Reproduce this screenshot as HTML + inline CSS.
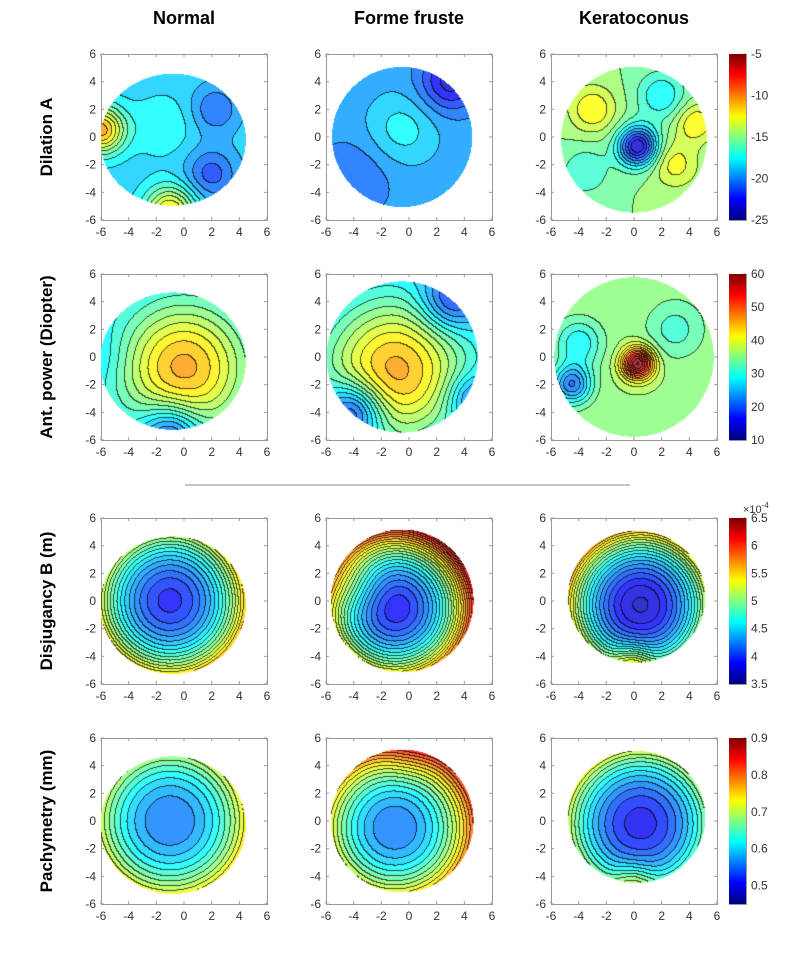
<!DOCTYPE html>
<html><head><meta charset="utf-8"><style>
body{margin:0;background:#fff;width:800px;height:956px;position:relative;overflow:hidden;font-family:"Liberation Sans",Arial,sans-serif}
svg{position:absolute;left:0;top:0}
canvas{position:absolute}
</style></head><body>
<svg id="fig" width="800" height="956"></svg>
<script>
// ---- data ----
const colTitles=["Normal","Forme fruste","Keratoconus"];
const rowTitles=["Dilation A","Ant. power (Diopter)","Disjugancy B (m)","Pachymetry (mm)"];
const rowMin=[-25,10,3.5,0.45];
const rowMax=[-5,60,6.5,0.9];
const rowStep=[1,2.2,0.11,0.02];
const cbTicks=[[-5,-10,-15,-20,-25],[60,50,40,30,20,10],[6.5,6,5.5,5,4.5,4,3.5],[0.9,0.8,0.7,0.6,0.5]];
const axTicks=[-6,-4,-2,0,2,4,6];
// masks: [cx,cy,rx,ry]
const masks=[
 [[-0.8,-0.2,5.3,4.8],[-0.5,0,5.1,5.1],[0,-0.2,5.3,5.3]],
 [[-0.8,-0.3,5.3,5.0],[-0.5,0,5.5,5.5],[0,0,5.8,5.8]],
 [[-0.8,-0.3,5.3,5.0],[-0.5,0,5.2,5.2],[0.2,0.3,5.0,4.8]],
 [[-0.8,-0.3,5.3,5.0],[-0.5,0,5.2,5.2],[0.2,0.3,5.0,4.8]]];
// field: base, bowl [cx,cy,k], bumps [x,y,amp,sigma]
const bases=[[-18.5,-19.5,-15],[26,24,36],[3.9,3.85,3.7],[0.55,0.55,0.5]];
const bowls=[[[0,0,0],[0,0,0],[0,0,0]],[[0,0,0],[0,0,0],[0,0,0]],
 [[-1,0,0.055],[-1,-0.5,0.07],[0.5,-0.3,0.065]],
 [[-1,0,0.0062],[-1,-0.5,0.008],[0.5,-0.2,0.0075]]];
const bumps=[
 [[[-6,0.5,8,1.2],[2.3,2,-2.5,1.2],[2,-2.7,-3,1.3],[-1,-5.5,7,1.3],[-1.5,0.8,1.5,1.5]],
  [[-0.5,0.5,2,1.8],[3,4,-4,1.5],[-4,-3,-1.5,2]],
  [[0.3,-0.7,-9,1.0],[-3,2,3,1.2],[3,-2,2.5,1.2],[2,3,-3,1.2],[-3.5,-2.5,-2,1.2],[4.5,1,3,1]]],
 [[[0,-0.8,20,3.4],[-1,-5.5,-12,1.5],[-6,0,-2,1.5]],
  [[-1,-1,22,3.8],[-4,-4,-15,1.5],[3,4,-10,1.5],[4.5,-3,-8,1.2]],
  [[0.3,-0.5,25,0.8],[-4.5,-2,-15,1],[-4,1,-8,1.2],[3,2,-5,1.5]]],
 [[[3,-3,0.0,1.5]],[[-4,1,0.3,1.5]],[[0,-4.5,0.5,1]]],
 [[[3,-3,0.0,1.5]],[[0,5,0.03,1.5]],[[0,-4.5,0.06,1]]]];
const colX=[101,326,551];
const rowY=[54,274,518,738];
const W=166,H=166;
// ---- helpers ----
const NS="http://www.w3.org/2000/svg";
const svg=document.getElementById('fig');
function el(tag,attrs,parent){const e=document.createElementNS(NS,tag);for(const k in attrs)e.setAttribute(k,attrs[k]);(parent||svg).appendChild(e);return e;}
function cl(v){return Math.max(0,Math.min(1,v));}
function jet(t){t=cl(t);return [cl(1.5-Math.abs(4*t-3)),cl(1.5-Math.abs(4*t-2)),cl(1.5-Math.abs(4*t-1))].map(v=>Math.round(v*255));}
function soft(c){return c.map(v=>Math.round(v*0.8+255*0.2));}
const xs=v=>(v+6)/12*W, ys=v=>(6-v)/12*H;
// titles
colTitles.forEach((t,i)=>{const e=el('text',{x:colX[i]+W/2,y:24,'text-anchor':'middle','font-size':18,'font-weight':'bold',fill:'#000'});e.textContent=t;

});
rowTitles.forEach((t,i)=>{const cy=rowY[i]+H/2;const e=el('text',{x:0,y:0,transform:`translate(52,${cy}) rotate(-90)`,'text-anchor':'middle','font-size':17,'font-weight':'bold',fill:'#000'});e.textContent=t;

});
const sep=el('line',{x1:185,y1:485,x2:630,y2:485,stroke:'#888','stroke-width':1});


// panels
for(let r=0;r<4;r++)for(let c=0;c<3;c++){
 const X=colX[c],Y=rowY[r];
 const cv=document.createElement('canvas');cv.width=W;cv.height=H;cv.style.left=X+'px';cv.style.top=Y+'px';
 
 
 document.body.appendChild(cv);
 const ctx=cv.getContext('2d');const img=ctx.createImageData(W,H);
 const m=masks[r][c],bw=bowls[r][c],bs=bumps[r][c],vmin=rowMin[r],vmax=rowMax[r],st=rowStep[r];
 const lev=new Int32Array(W*H).fill(-99999);
 for(let py=0;py<H;py++)for(let px=0;px<W;px++){
  const x=-6+12*px/(W-1),y=6-12*py/(H-1);
  const dx=(x-m[0])/m[2],dy=(y-m[1])/m[3];if(dx*dx+dy*dy>1)continue;
  let v=bases[r][c]+bw[2]*((x-bw[0])**2+(y-bw[1])**2);
  for(const b of bs)v+=b[2]*Math.exp(-((x-b[0])**2+(y-b[1])**2)/(2*b[3]*b[3]));
  const L=Math.floor((v-vmin)/st);lev[py*W+px]=L;
  const col=soft(jet(((L+0.5)*st)/(vmax-vmin)));const i=(py*W+px)*4;
  img.data[i]=col[0];img.data[i+1]=col[1];img.data[i+2]=col[2];img.data[i+3]=255;}
 for(let py=0;py<H-1;py++)for(let px=0;px<W-1;px++){
  const a=lev[py*W+px];if(a===-99999)continue;const b=lev[py*W+px+1],d=lev[(py+1)*W+px];
  if((b!==-99999&&b!==a)||(d!==-99999&&d!==a)){const i=(py*W+px)*4;img.data[i]*=0.3;img.data[i+1]*=0.3;img.data[i+2]*=0.3;}}
 ctx.putImageData(img,0,0);
 const g=el('g',{});
 
 
 el('rect',{x:X+0.5,y:Y+0.5,width:W,height:H,fill:'none',stroke:'#999','stroke-width':1},g);
 axTicks.forEach(t=>{
  const tx=X+xs(t),ty=Y+ys(t);
  el('line',{x1:tx,y1:Y+H,x2:tx,y2:Y+H-3,stroke:'#999'},g);el('line',{x1:tx,y1:Y,x2:tx,y2:Y+3,stroke:'#999'},g);
  el('line',{x1:X,y1:ty,x2:X+3,y2:ty,stroke:'#999'},g);el('line',{x1:X+W,y1:ty,x2:X+W-3,y2:ty,stroke:'#999'},g);
  const a=el('text',{x:tx,y:Y+H+16,'text-anchor':'middle','font-size':12,fill:'#333'},g);a.textContent=t;
  
  
  const b=el('text',{x:X-5,y:ty+4,'text-anchor':'end','font-size':12,fill:'#333'},g);b.textContent=t;
  
  });
}
// colorbars
for(let r=0;r<4;r++){
 const Y=rowY[r],X=729,w=17;
 const cv=document.createElement('canvas');cv.width=w;cv.height=H;cv.style.left=X+'px';cv.style.top=Y+'px';
 
 
 document.body.appendChild(cv);const ctx=cv.getContext('2d');
 for(let py=0;py<H;py++){const c=jet(1-py/(H-1));ctx.fillStyle=`rgb(${c})`;ctx.fillRect(0,py,w,1);}
 el('rect',{x:X+0.5,y:Y+0.5,width:w,height:H,fill:'none',stroke:'#999'});
 cbTicks[r].forEach(t=>{const ty=Y+(rowMax[r]-t)/(rowMax[r]-rowMin[r])*H;
  el('line',{x1:X+w-3,y1:ty,x2:X+w,y2:ty,stroke:'#999'});
  const e=el('text',{x:X+w+5,y:ty+4,'font-size':12,fill:'#333'});e.textContent=t;
  
  });
}
const ex=el('text',{x:743,y:513,'font-size':11,fill:'#333'});ex.innerHTML='×10<tspan dy="-5" font-size="8">-4</tspan>';


</script>
</body></html>
